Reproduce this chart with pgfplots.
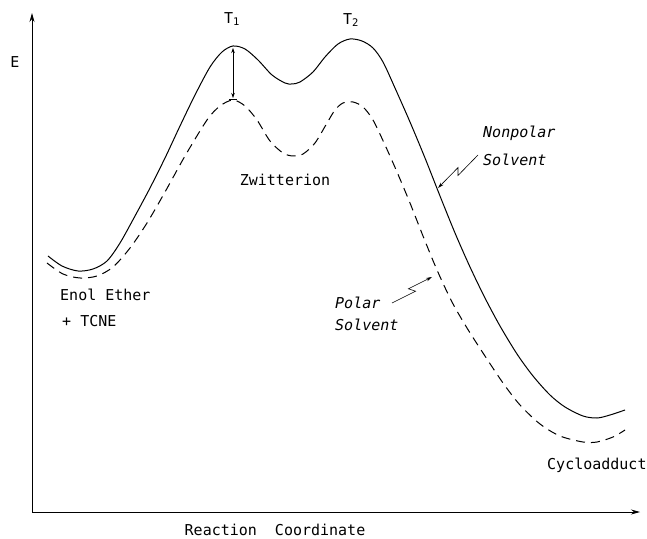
\documentclass[border=0pt]{standalone}
\usepackage{fontspec}
\setmainfont{DejaVu Sans Mono}
\usepackage{pgfplots}
\pgfplotsset{compat=1.18}
\usetikzlibrary{arrows.meta}
% y values are 538 - pixel row
\pgfplotstableread{
x y
48 282
62 272
78 267
93 269
107 277
120 295
135 322
150 350
165 380
180 412
195 443
210 471
222 486
233 492
245 489
258 478
272 463
285 455
292 454
300 456
313 466
325 481
338 494
350 499
362 497
373 490
383 476
395 450
410 416
425 380
440 342
455 305
470 271
485 240
500 212
517 184
533 162
550 143
565 131
583 122
597 120
610 123
625 128
}\nonpolar
\pgfplotstableread{
x y
47 275
63 264
80 260
97 262
113 271
130 290
147 315
165 346
185 382
207 418
220 432
233 438
245 432
257 418
270 397
283 385
293 382
303 384
315 395
327 415
335 428
343 435
353 436
363 431
373 418
385 393
397 366
410 335
423 302
437 268
452 236
467 210
483 185
503 155
520 133
540 114
560 102
583 96
597 96
613 101
625 108
}\polar
\begin{document}
\begin{tikzpicture}[every node/.style={font=\fontsize{15}{18}\selectfont}]
\path[use as bounding box] (0,0) rectangle (647pt,538pt);
\begin{axis}[
  scale only axis, width=608pt, height=499pt,
  at={(32pt,26pt)}, anchor=south west,
  xmin=32, xmax=640, ymin=26, ymax=525,
  axis x line=bottom, axis y line=left,
  xtick=\empty, ytick=\empty,
  x axis line style={line width=0.8pt,-{Stealth[length=9pt,width=5pt]}},
  y axis line style={line width=0.8pt,-{Stealth[length=9pt,width=5pt]}},
  clip=false,
]
\addplot[black, line width=1pt, smooth] table[x=x,y=y] {\nonpolar};
\addplot[black, line width=1pt, smooth, dash pattern=on 9pt off 6pt] table[x=x,y=y] {\polar};
% energy gap arrow at T1
\draw[line width=0.6pt, {Stealth[length=5pt,width=3.5pt]}-{Stealth[length=5pt,width=3.5pt]}] (233,490) -- (233,440);
\draw[line width=0.8pt] (229,439) -- (237,439);
% lightning arrows
\draw[line width=0.6pt, -{Stealth[length=6pt,width=3.5pt]}] (478,383) -- (458,362.5) -- (458,370.4) -- (438,350);
\draw[line width=0.6pt, -{Stealth[length=6pt,width=3.5pt]}] (392,235) -- (415.6,246.8) -- (408.4,249.2) -- (432,261);
% labels
\node at (232,519) {T\textsubscript{1}};
\node at (351,518) {T\textsubscript{2}};
\node at (15,476) {E};
\node at (285,358) {Zwitterion};
\node[anchor=west, inner sep=0pt] at (60,243) {Enol Ether};
\node[anchor=west, inner sep=0pt] at (62,217) {+ TCNE};
\node[anchor=west, inner sep=0pt, font=\fontsize{15}{18}\selectfont\itshape] at (483,405) {Nonpolar};
\node[anchor=west, inner sep=0pt, font=\fontsize{15}{18}\selectfont\itshape] at (483,378) {Solvent};
\node[anchor=west, inner sep=0pt, font=\fontsize{15}{18}\selectfont\itshape] at (335,235) {Polar};
\node[anchor=west, inner sep=0pt, font=\fontsize{15}{18}\selectfont\itshape] at (335,213) {Solvent};
\node[anchor=west, inner sep=0pt] at (547,73) {Cycloadduct};
\node at (275,8) {Reaction\ \ Coordinate};
\end{axis}
\end{tikzpicture}
\end{document}
